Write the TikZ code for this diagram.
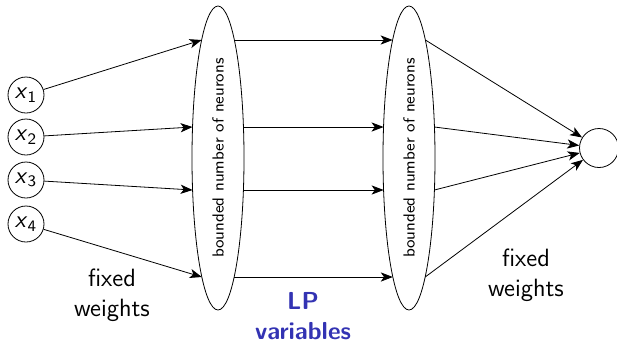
\documentclass[tikz,border=0pt]{standalone}
\usetikzlibrary{shapes.geometric,arrows.meta}
\definecolor{lpblue}{RGB}{51,51,179}
\begin{document}
\begin{tikzpicture}[x=0.5pt,y=-0.5pt,
    font=\sffamily,
    inp/.style={draw,circle,inner sep=0pt,minimum size=18pt,font=\sffamily\fontsize{12}{14}\selectfont},
    layer/.style={draw,ellipse,inner sep=0pt,outer sep=0pt,minimum width=26pt,minimum height=152pt},
    lbl/.style={align=center,font=\sffamily\fontsize{12.5}{15}\selectfont},
    conn/.style={-{Stealth[length=6pt,width=4.6pt,inset=1.6pt]}}]
  \useasboundingbox (0,0) rectangle (617,344);

  % input neurons
  \node[inp] (x1) at (26,95)  {\textit{x}\textsubscript{1}};
  \node[inp] (x2) at (26,137) {\textit{x}\textsubscript{2}};
  \node[inp] (x3) at (26,180) {\textit{x}\textsubscript{3}};
  \node[inp] (x4) at (26,224) {\textit{x}\textsubscript{4}};

  % hidden layers
  \node[layer] (h1) at (218,158) {};
  \node[layer] (h2) at (409,158) {};
  \node[rotate=90,font=\sffamily\fontsize{8}{10}\selectfont] at (h1.center) {bounded number of neurons};
  \node[rotate=90,font=\sffamily\fontsize{8}{10}\selectfont] at (h2.center) {bounded number of neurons};

  % points on the layer borders, at the heights of the four connections
  \foreach \h in {h1,h2}{
    \path (\h.center) ++(-16.4,-118) coordinate (\h w1) ++(32.8,0) coordinate (\h e1);
    \path (\h.center) ++(-25.45,-31) coordinate (\h w2) ++(50.9,0) coordinate (\h e2);
    \path (\h.center) ++(-25.4,32)   coordinate (\h w3) ++(50.8,0) coordinate (\h e3);
    \path (\h.center) ++(-16.2,119)  coordinate (\h w4) ++(32.4,0) coordinate (\h e4);
  }

  % output neuron
  \node[draw,circle,inner sep=0pt,minimum size=19.5pt] (out) at (599,148) {};

  % input to first layer
  \draw[conn] (x1) -- (h1w1);
  \draw[conn] (x2) -- (h1w2);
  \draw[conn] (x3) -- (h1w3);
  \draw[conn] (x4) -- (h1w4);

  % first layer to second layer
  \draw[conn] (h1e1) -- (h2w1);
  \draw[conn] (h1e2) -- (h2w2);
  \draw[conn] (h1e3) -- (h2w3);
  \draw[conn] (h1e4) -- (h2w4);

  % second layer to output
  \draw[conn] (h2e1) -- (out);
  \draw[conn] (h2e2) -- (out);
  \draw[conn] (h2e3) -- (out);
  \draw[conn] (h2e4) -- (out);

  % labels
  \node[lbl] (lw) at (112,295) {fixed\\weights};
  \node[lbl] (rw) at (526,275) {fixed\\weights};
  \node[lbl,text=lpblue,font=\sffamily\bfseries\fontsize{12.3}{15}\selectfont] (lp) at (303,316) {LP\\variables};
\end{tikzpicture}
\end{document}
